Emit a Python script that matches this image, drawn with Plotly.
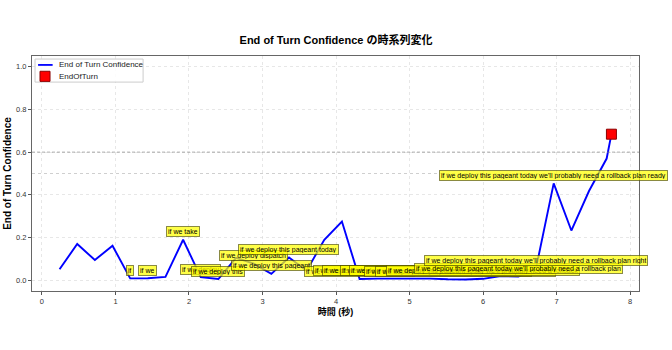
import plotly.graph_objects as go

# ---- data ----
time_s = [0.24, 0.48, 0.72, 0.96, 1.20, 1.44, 1.68, 1.92, 2.16, 2.40, 2.64,
          2.88, 3.12, 3.36, 3.60, 3.84, 4.08, 4.32, 4.56, 4.80, 5.04, 5.28,
          5.52, 5.76, 6.00, 6.24, 6.48, 6.72, 6.96, 7.20, 7.44, 7.68, 7.745]
confidence = [0.052, 0.170, 0.095, 0.162, 0.009, 0.010, 0.016, 0.190, 0.015,
              0.006, 0.105, 0.078, 0.030, 0.107, 0.045, 0.190, 0.275, 0.006,
              0.008, 0.008, 0.009, 0.008, 0.005, 0.004, 0.007, 0.020, 0.018,
              0.057, 0.454, 0.233, 0.418, 0.570, 0.684]
base = "if we deploy this pageant today"
transcripts = ["", "", "", "", "if", "if we", "", "if we take", "if we deploy",
               "if we deploy this", "", "if we deploy dispatch",
               "if we deploy this pageant", base, "", "", "",
               base + " we", base + " we'll pro", base + " we'll probably",
               base + " we'll probably", base + " we'll probably need",
               base + " we'll probably need a", base + " we'll probably need a role",
               base + " we'll probably need a rollback", "",
               base + " we'll probably need a rollback plan",
               base + " we'll probably need a rollback plan right",
               base + " we'll probably need a rollback plan ready",
               "", "", "", ""]
eot_time = [7.745]
eot_conf = [0.684]
threshold_dashed = 0.6
threshold_dotted = 0.5
x_ticks = [0, 1, 2, 3, 4, 5, 6, 7, 8]
y_ticks = [0.0, 0.2, 0.4, 0.6, 0.8, 1.0]
series_names = ["End of Turn Confidence", "EndOfTurn"]

FONT = "Liberation Sans, Arial, Noto Sans CJK JP, sans-serif"
LINE_BLUE = "#0000ff"

fig = go.Figure()
fig.add_trace(go.Scatter(x=time_s, y=confidence, mode="lines",
                         line=dict(color=LINE_BLUE, width=1.9),
                         name=series_names[0], showlegend=False))
fig.add_trace(go.Scatter(x=eot_time, y=eot_conf, mode="markers",
                         marker=dict(symbol="square", size=10, color="#ff0000",
                                     line=dict(color="#8b0000", width=1)),
                         name=series_names[1], showlegend=False))

fig.add_hline(y=threshold_dotted, line=dict(color="rgba(160,160,160,0.5)", width=1, dash="dot"))
fig.add_hline(y=threshold_dashed, line=dict(color="rgba(140,140,140,0.7)", width=1, dash="3px,2px"))

for t, c, txt in zip(time_s, confidence, transcripts):
    if not txt:
        continue
    fig.add_annotation(x=t, y=c, xref="x", yref="y", text=txt,
                       showarrow=False, xanchor="center", yanchor="middle",
                       yshift=8, font=dict(family=FONT, size=7, color="black"),
                       bgcolor="rgba(255,255,0,0.72)",
                       bordercolor="rgba(60,60,0,0.6)", borderwidth=1,
                       borderpad=1, height=7)

# compact legend box in the top-left corner of the plot
fig.add_shape(type="rect", xref="paper", yref="paper", x0=0.005, x1=0.183, y0=0.889, y1=0.987,
              line=dict(color="#cccccc", width=1), fillcolor="rgba(255,255,255,0.85)", layer="above")
fig.add_shape(type="line", xref="paper", yref="paper", x0=0.010, x1=0.034, y0=0.962, y1=0.962,
              line=dict(color=LINE_BLUE, width=1.8), layer="above")
fig.add_shape(type="rect", xref="paper", yref="paper", x0=0.0132, x1=0.0297, y0=0.892, y1=0.935,
              line=dict(color="#8b0000", width=1), fillcolor="#ff0000", layer="above")
fig.add_annotation(x=0.041, y=0.962, xref="paper", yref="paper", text=series_names[0],
                   showarrow=False, xanchor="left", yanchor="middle",
                   font=dict(family=FONT, size=8, color="#222"))
fig.add_annotation(x=0.041, y=0.913, xref="paper", yref="paper", text=series_names[1],
                   showarrow=False, xanchor="left", yanchor="middle",
                   font=dict(family=FONT, size=8, color="#222"))

fig.update_layout(
    width=672, height=350,
    margin=dict(l=32, r=33, t=56, b=59),
    paper_bgcolor="white", plot_bgcolor="white",
    font=dict(family=FONT, size=7.5, color="#333"),
    title=dict(text="<b>End of Turn Confidence の時系列変化</b>", x=0.5, xanchor="center",
               y=0.885, yanchor="middle", font=dict(family=FONT, size=11, color="black")),
    showlegend=False,
)
fig.update_xaxes(range=[-0.135, 8.12], tickvals=x_ticks, ticks="outside", ticklen=3,
                 tickcolor="#555", showgrid=True, gridcolor="rgba(215,215,215,0.6)",
                 griddash="dot", gridwidth=1, showline=True, linecolor="#666",
                 linewidth=1, mirror=True, zeroline=False, automargin=False,
                 title=dict(text="<b>時間 (秒)</b>", standoff=2,
                            font=dict(family=FONT, size=9, color="black")))
fig.update_yaxes(range=[-0.05, 1.05], tickvals=y_ticks, tickformat=".1f",
                 ticks="outside", ticklen=3, tickcolor="#555", showgrid=True,
                 gridcolor="rgba(215,215,215,0.6)", griddash="dot", gridwidth=1,
                 showline=True, linecolor="#666", linewidth=1, mirror=True,
                 zeroline=False, automargin=False,
                 title=dict(text="<b>End of Turn Confidence</b>", standoff=2,
                            font=dict(family=FONT, size=10, color="black")))

fig.write_html("out.html")
